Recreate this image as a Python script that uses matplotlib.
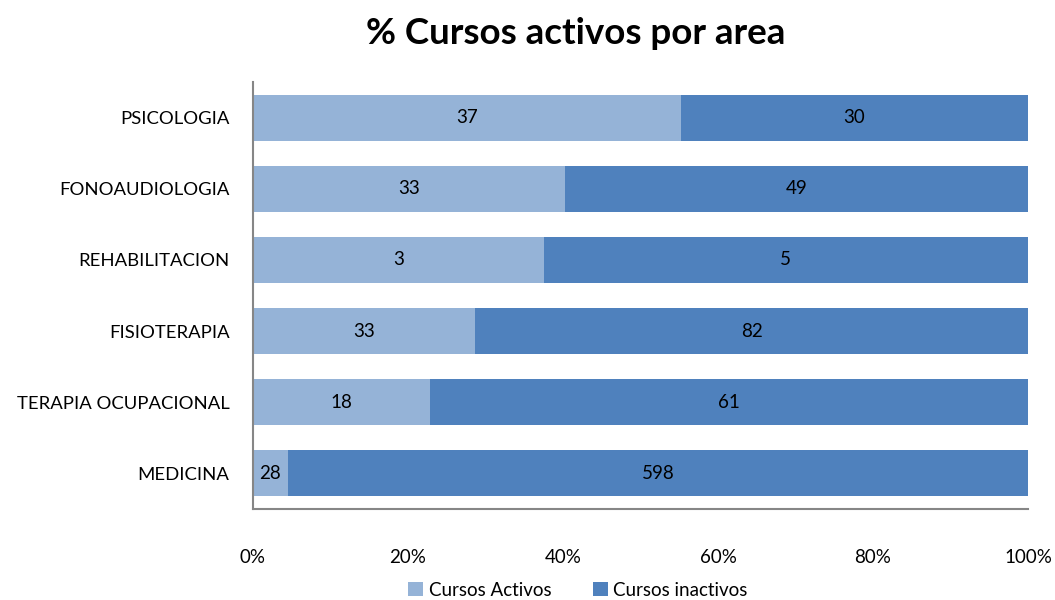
import matplotlib
matplotlib.use('Agg')
import matplotlib.pyplot as plt
import numpy as np

# Data (counts shown on each bar segment)
areas = ['PSICOLOGIA', 'FONOAUDIOLOGIA', 'REHABILITACION', 'FISIOTERAPIA',
         'TERAPIA OCUPACIONAL', 'MEDICINA']
activos = [37, 33, 3, 33, 18, 28]
inactivos = [30, 49, 5, 82, 61, 598]
ticks_pct = [0, 20, 40, 60, 80, 100]

plt.rcParams['font.family'] = ['Lato', 'DejaVu Sans']

act = np.array(activos, dtype=float)
ina = np.array(inactivos, dtype=float)
tot = act + ina
p_act = act / tot * 100
p_ina = ina / tot * 100

c_light = '#95B3D7'
c_dark = '#4F81BD'

fig = plt.figure(figsize=(10.55, 6), dpi=100)
ax = fig.add_axes([253 / 1055, 1 - 509 / 600, 775 / 1055, 427 / 600])

y = np.arange(len(areas))[::-1]
ax.barh(y, p_act, height=0.645, color=c_light, label='Cursos Activos')
ax.barh(y, p_ina, left=p_act, height=0.645, color=c_dark, label='Cursos inactivos')

for yi, pa, pi, a, i in zip(y, p_act, p_ina, activos, inactivos):
    ax.text(pa / 2, yi, str(a), ha='center', va='center', fontsize=13.5, color='black')
    ax.text(pa + pi / 2, yi, str(i), ha='center', va='center', fontsize=13.5, color='black')

ax.set_xlim(0, 100)
ax.set_ylim(-0.5, len(areas) - 0.5)
ax.set_yticks(y)
ax.set_yticklabels(areas, fontsize=13.3)
ax.set_xticks(ticks_pct)
ax.set_xticklabels([f'{t}%' for t in ticks_pct], fontsize=13.5)
ax.tick_params(axis='both', length=0)
ax.tick_params(axis='x', pad=29)
ax.tick_params(axis='y', pad=17)

for s in ['top', 'right']:
    ax.spines[s].set_visible(False)
for s in ['left', 'bottom']:
    ax.spines[s].set_color('#868686')
    ax.spines[s].set_linewidth(1.5)

fig.text(576 / 1055, 1 - 33 / 600, '% Cursos activos por area', ha='center', va='center',
         fontsize=26.5, fontweight='bold')

fig.legend(loc='center', bbox_to_anchor=(578 / 1055, 1 - 590 / 600), ncol=2, frameon=False,
           fontsize=13.5, handlelength=0.8, handleheight=0.8, handletextpad=0.3, columnspacing=2.2)

fig.savefig('out.png', dpi=100)
